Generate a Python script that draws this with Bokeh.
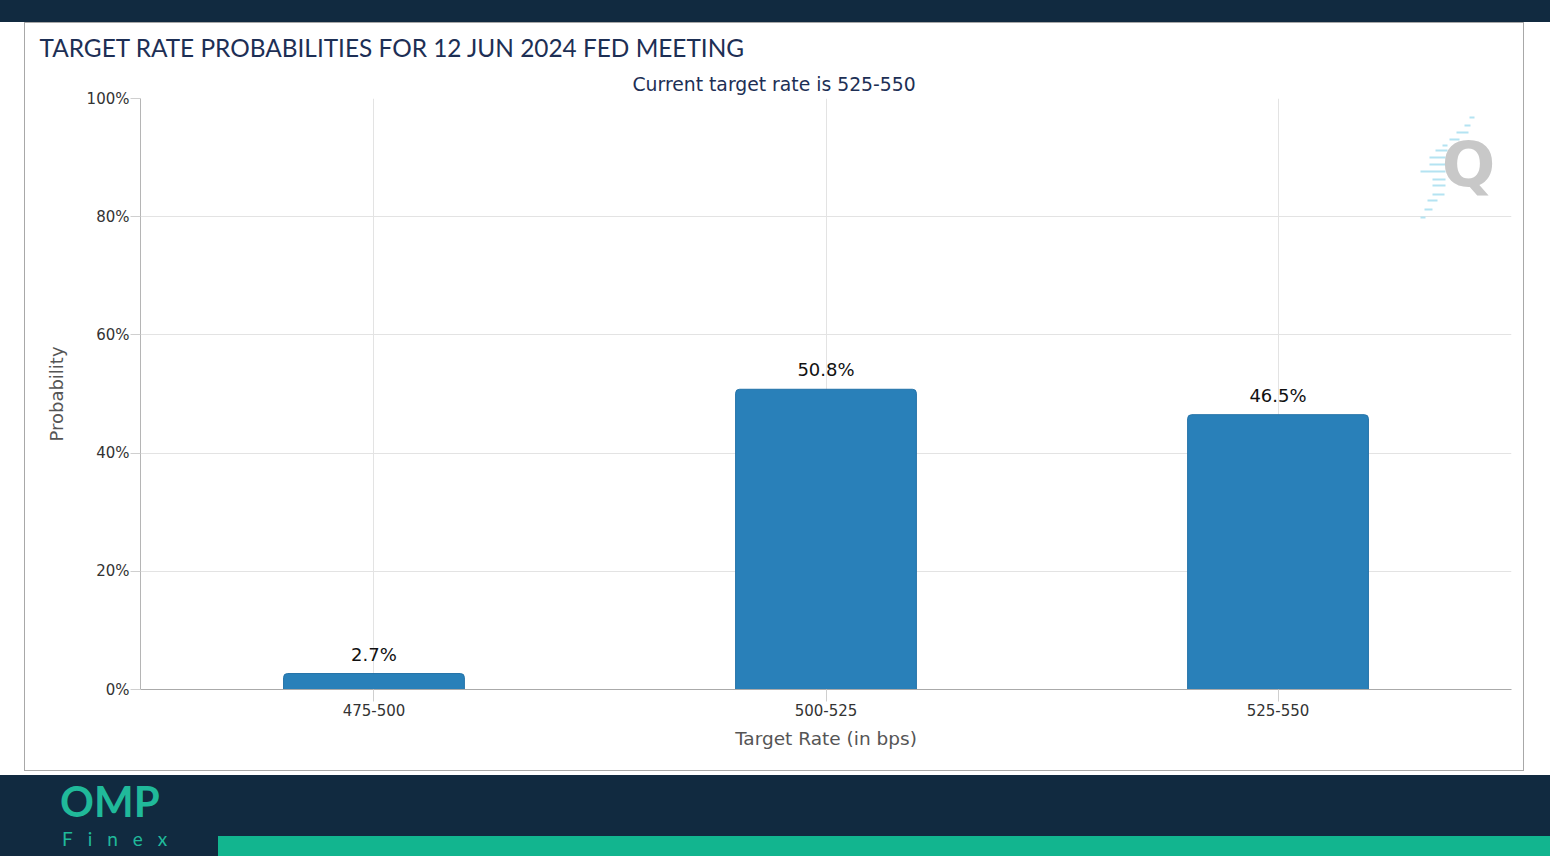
from bokeh.plotting import figure
from bokeh.layouts import column
from bokeh.models import (ColumnDataSource, FactorRange, Range1d, LabelSet, Label,
                          BoxAnnotation, FixedTicker, PrintfTickFormatter, Title, Div)
from bokeh.core.properties import value
from bokeh.embed import file_html
from bokeh.resources import INLINE

# ---- data ----
categories = ["475-500", "500-525", "525-550"]
probabilities = [2.7, 50.8, 46.5]
y_ticks = [0, 20, 40, 60, 80, 100]

title_text = "TARGET RATE PROBABILITIES FOR 12 JUN 2024 FED MEETING"
subtitle_text = "Current target rate is 525-550"
x_label = "Target Rate (in bps)"
y_label = "Probability"
logo_top = "OMP"
logo_bottom = "Finex"

# ---- style ----
NAVY = "#112a40"
TITLE_NAVY = "#1d2f55"
BAR = "#2980b9"
BAR_EDGE = "#2472a8"
GREEN = "#12b58f"
LOGO_GREEN = "#20b99a"
TICK_FONT = "DejaVu Sans"

# top band
top = Div(text=f'<div style="width:1550px;height:22px;background:{NAVY}"></div>',
          width=1550, height=22, margin=0)

# main chart
src = ColumnDataSource(dict(
    cat=categories,
    prob=probabilities,
    label=[f"{v}%" for v in probabilities],
))

p = figure(width=1500, height=749,
           x_range=FactorRange(factors=categories, range_padding=0.011),
           y_range=Range1d(0, 100),
           output_backend="svg", toolbar_location=None,
           min_border_left=115, min_border_right=14,
           min_border_top=75, min_border_bottom=83,
           margin=(0, 26, 4, 24),
           styles={"border": "1px solid #a8a8a8", "box-sizing": "border-box"})
p.outline_line_color = None
p.background_fill_color = "white"
p.border_fill_color = "white"

# watermark (decoration), canvas units relative to this chart
dashes = [(115, 1467, 1472), (123, 1462, 1468), (130, 1454, 1466), (137, 1447, 1457),
          (143, 1440, 1445), (148, 1433, 1445), (155, 1427, 1443), (162, 1427, 1443),
          (169, 1418, 1443), (177, 1430, 1443), (183, 1430, 1443), (192, 1430, 1442),
          (198, 1425, 1435), (207, 1422, 1430), (215, 1418, 1423)]
for yy, x0, x1 in dashes:
    p.add_layout(BoxAnnotation(left=x0 - 24, right=x1 - 24, top=yy - 23, bottom=yy - 21,
                               left_units="canvas", right_units="canvas",
                               top_units="canvas", bottom_units="canvas",
                               fill_color="#b4e3f2", fill_alpha=1, line_color=None,
                               level="underlay"))
p.add_layout(Label(x=1442, y=140, x_units="canvas", y_units="canvas", text="Q",
                   text_baseline="middle", text_align="center", text_font="DejaVu Sans",
                   text_font_style="bold", text_font_size="63px", text_color="#c8c8c8",
                   level="underlay"))

# bars
p.vbar(x="cat", top="prob", width=0.4, source=src, fill_color=BAR,
       line_color=BAR_EDGE, line_width=1, border_radius=(4, 4, 0, 0))

p.add_layout(LabelSet(x="cat", y="prob", text="label", source=src,
                      y_offset=9, text_align="center", text_baseline="bottom",
                      text_font=value(TICK_FONT), text_font_size="18px",
                      text_color="#111111"))

# titles
p.add_layout(Title(text=subtitle_text, align="left", offset=492, standoff=8,
                   text_font=TICK_FONT, text_font_size="18.8px",
                   text_font_style="normal", text_color=TITLE_NAVY), "above")
p.add_layout(Title(text=title_text, align="left", offset=-101, standoff=12,
                   text_font="Lato", text_font_size="24.4px",
                   text_font_style="normal", text_color=TITLE_NAVY), "above")

# axes
p.yaxis.ticker = FixedTicker(ticks=y_ticks)
p.yaxis.formatter = PrintfTickFormatter(format="%d%%")
p.yaxis.major_tick_out = 10
p.yaxis.major_tick_in = 0
p.yaxis.minor_tick_line_color = None
p.yaxis.major_tick_line_color = "#cfcfcf"
p.yaxis.axis_line_color = "#b5b5b5"
p.yaxis.major_label_text_font = TICK_FONT
p.yaxis.major_label_text_font_size = "15px"
p.yaxis.major_label_text_color = "#333333"
p.yaxis.major_label_standoff = 1
p.yaxis.axis_label = y_label
p.yaxis.axis_label_text_font = TICK_FONT
p.yaxis.axis_label_text_font_size = "18px"
p.yaxis.axis_label_text_font_style = "normal"
p.yaxis.axis_label_text_color = "#555555"
p.yaxis.axis_label_standoff = 17

p.xaxis.major_tick_out = 12
p.xaxis.major_tick_in = 0
p.xaxis.major_tick_line_color = "#cfcfcf"
p.xaxis.axis_line_color = "#aaaaaa"
p.xaxis.major_label_text_font = TICK_FONT
p.xaxis.major_label_text_font_size = "15px"
p.xaxis.major_label_text_color = "#333333"
p.xaxis.major_label_standoff = 2
p.xaxis.axis_label = x_label
p.xaxis.axis_label_text_font = TICK_FONT
p.xaxis.axis_label_text_font_size = "18.5px"
p.xaxis.axis_label_text_font_style = "normal"
p.xaxis.axis_label_text_color = "#555555"
p.xaxis.axis_label_standoff = 9

p.xgrid.grid_line_color = "#e3e3e3"
p.ygrid.grid_line_color = "#e3e3e3"

# footer
footer_html = (
    f'<div style="position:relative;width:1550px;height:81px;background:{NAVY};'
    f'overflow:hidden">'
    f'<div style="position:absolute;left:60px;top:10px;height:33px;font-family:Lato;'
    f'font-weight:bold;font-size:42px;line-height:33px;color:{LOGO_GREEN}">{logo_top}</div>'
    f'<div style="position:absolute;left:62px;top:56px;height:16px;font-family:Lato;'
    f'font-weight:400;font-size:19px;line-height:16px;letter-spacing:15px;'
    f'color:{LOGO_GREEN}">{logo_bottom}</div>'
    f'<div style="position:absolute;left:218px;top:61px;width:1332px;height:20px;'
    f'background:{GREEN}"></div>'
    f'</div>'
)
foot = Div(text=footer_html, width=1550, height=81, margin=0)

layout = column(top, p, foot, spacing=0)
open("out.html", "w").write(file_html(layout, INLINE))
